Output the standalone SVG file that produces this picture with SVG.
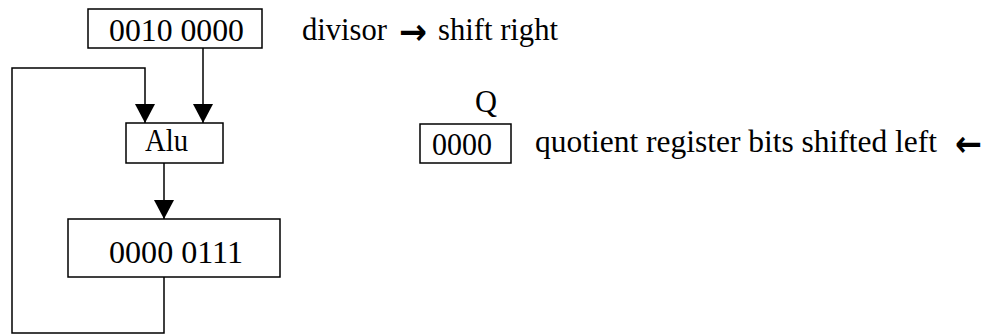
<svg xmlns="http://www.w3.org/2000/svg" width="987" height="335" viewBox="0 0 987 335">
<style>
  .box { fill: #fff; stroke: #000; stroke-width: 1.5; }
  .t { font-family: "Liberation Serif", "Times New Roman", serif; font-size: 32px; fill: #000; }
  .ar { font-family: "DejaVu Sans", sans-serif; font-size: 36px; font-weight: bold; fill: #000; }
  .wire { fill: none; stroke: #000; stroke-width: 1.5; }
</style>
<defs>
  <marker id="ah" viewBox="0 0 19 20" refX="19" refY="10" markerWidth="19" markerHeight="20" markerUnits="userSpaceOnUse" orient="auto">
    <path d="M0,0 L19,10 L0,20 z" fill="#000"/>
  </marker>
</defs>
<rect width="987" height="335" fill="#fff"/>
<g id="connectors">
  <path class="wire" d="M203,48 L203,123" marker-end="url(#ah)"/>
  <path class="wire" d="M164,277 L164,333 L12,333 L12,68 L145,68 L145,123" marker-end="url(#ah)"/>
  <path class="wire" d="M164,163 L164,219" marker-end="url(#ah)"/>
</g>
<g id="divisor">
  <rect class="box" x="88" y="9" width="174" height="39"/>
  <text class="t" x="109" y="41" textLength="135" lengthAdjust="spacingAndGlyphs">0010 0000</text>
</g>
<g id="divisor-label">
  <text class="t" x="302" y="40" textLength="85" lengthAdjust="spacingAndGlyphs">divisor</text>
  <text class="ar" x="399" y="44" textLength="28" lengthAdjust="spacingAndGlyphs">→</text>
  <text class="t" x="438" y="40" textLength="120" lengthAdjust="spacingAndGlyphs">shift right</text>
</g>
<g id="alu">
  <rect class="box" x="126" y="123" width="97" height="40"/>
  <text class="t" x="145" y="151" textLength="43" lengthAdjust="spacingAndGlyphs">Alu</text>
</g>
<g id="remainder">
  <rect class="box" x="68" y="219" width="212" height="58"/>
  <text class="t" x="109" y="263" textLength="134" lengthAdjust="spacingAndGlyphs">0000 0111</text>
</g>
<g id="quotient">
  <text class="t" x="475" y="112" textLength="22" lengthAdjust="spacingAndGlyphs">Q</text>
  <rect class="box" x="420" y="124" width="91" height="39"/>
  <text class="t" x="432" y="155" textLength="60" lengthAdjust="spacingAndGlyphs">0000</text>
</g>
<g id="quotient-label">
  <text class="t" x="535" y="152" textLength="402" lengthAdjust="spacingAndGlyphs">quotient register bits shifted left</text>
  <text class="ar" x="955" y="156" textLength="27" lengthAdjust="spacingAndGlyphs">←</text>
</g>
</svg>
